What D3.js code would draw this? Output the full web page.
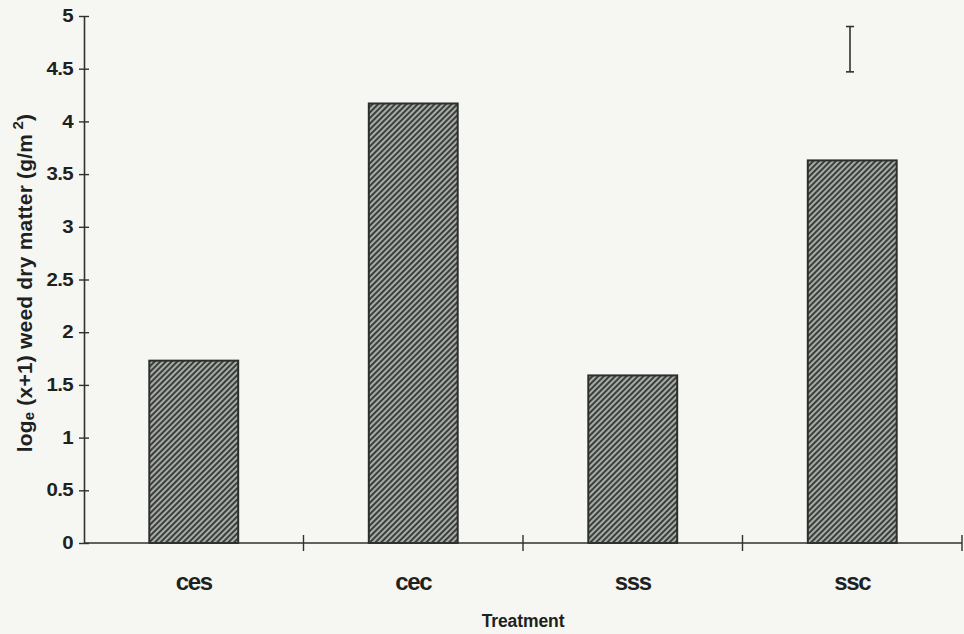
<!DOCTYPE html>
<html>
<head>
<meta charset="utf-8">
<script src="https://cdn.jsdelivr.net/npm/d3@7"></script>
<style>
  body { margin: 0; background: #f6f7f3; }
  svg { display: block; font-family: Arial, "Liberation Sans", sans-serif; }
</style>
</head>
<body>
<div id="chart"></div>
<script>
// treatments and weed dry matter values (log_e(x+1) g/m2)
const treatments = ['ces', 'cec', 'sss', 'ssc'];
const values = [1.73, 4.17, 1.59, 3.63];
const yTicks = [0, 0.5, 1, 1.5, 2, 2.5, 3, 3.5, 4, 4.5, 5];
const lsdBar = [4.47, 4.9]; // error bar (low, high)

const width = 964;
const height = 634;
const margin = { top: 16, right: 2, bottom: 91, left: 84 };

const svg = d3.select('#chart')
  .append('svg')
  .attr('width', width)
  .attr('height', height);

svg.append('rect').attr('width', width).attr('height', height).attr('fill', '#f6f7f3');

// hatch pattern for bars
const defs = svg.append('defs');
const pat = defs.append('pattern')
  .attr('id', 'hatch')
  .attr('patternUnits', 'userSpaceOnUse')
  .attr('width', 4)
  .attr('height', 4)
  .attr('patternTransform', 'rotate(45)');
pat.append('rect').attr('width', 4).attr('height', 4).attr('fill', '#a8aba8');
pat.append('rect').attr('width', 2).attr('height', 4).attr('fill', '#3a3f3b');

const xScale = d3.scaleBand()
  .domain(treatments)
  .range([margin.left, width - margin.right])
  .paddingInner(0.595)
  .paddingOuter(0.2975);

const step = xScale.step();

const yScale = d3.scaleLinear()
  .domain([0, 5])
  .range([height - margin.bottom, margin.top]);

// bars
svg.append('g')
  .selectAll('rect')
  .data(values)
  .join('rect')
  .attr('x', (d, i) => xScale(treatments[i]))
  .attr('y', d => yScale(d))
  .attr('width', xScale.bandwidth())
  .attr('height', d => yScale(0) - yScale(d))
  .attr('fill', 'url(#hatch)')
  .attr('stroke', '#2b302c')
  .attr('stroke-width', 2);

const axisColor = '#2e332f';

// y axis
const yAxis = d3.axisLeft(yScale)
  .tickValues(yTicks)
  .tickFormat(d => String(d))
  .tickSizeInner(-6)
  .tickSizeOuter(0);

const gy = svg.append('g')
  .attr('transform', `translate(${margin.left},0)`)
  .call(yAxis);
gy.select('.domain').attr('stroke', axisColor).attr('stroke-width', 1.6);
gy.selectAll('.tick line').attr('x1', -5).attr('x2', 5).attr('stroke', axisColor).attr('stroke-width', 1.4);
gy.selectAll('.tick text')
  .attr('x', -9.5)
  .attr('transform', 'scale(1.17,1)')
  .attr('fill', '#1e221f')
  .style('font-size', '17.5px')
  .style('font-weight', 'bold')
  .style('letter-spacing', '-0.6px');

// x axis with category boundary ticks
const gx = svg.append('g')
  .attr('transform', `translate(0,${yScale(0)})`);
gx.append('line')
  .attr('x1', margin.left)
  .attr('x2', width - margin.right)
  .attr('stroke', axisColor)
  .attr('stroke-width', 1.6);
const boundaries = treatments.slice(1).map(t => xScale(t) - step * xScale.paddingOuter())
  .concat([xScale(treatments[treatments.length - 1]) + xScale.bandwidth() + step * xScale.paddingOuter()]);
gx.selectAll('.bt')
  .data(boundaries)
  .join('line')
  .attr('x1', d => d).attr('x2', d => d)
  .attr('y1', -8).attr('y2', 8)
  .attr('stroke', axisColor)
  .attr('stroke-width', 1.4);
gx.selectAll('.cat')
  .data(treatments)
  .join('text')
  .attr('x', d => xScale(d) + xScale.bandwidth() / 2)
  .attr('y', 47)
  .attr('text-anchor', 'middle')
  .attr('fill', '#1e221f')
  .style('font-size', '24px')
  .style('font-weight', 'bold')
  .style('letter-spacing', '-1.4px')
  .text(d => d);

// axis titles
svg.append('text')
  .attr('x', 523)
  .attr('y', 627)
  .attr('text-anchor', 'middle')
  .attr('fill', '#1e221f')
  .style('font-size', '17.5px')
  .style('font-weight', 'bold')
  .style('letter-spacing', '-0.1px')
  .text('Treatment');

const yTitle = svg.append('text')
  .attr('transform', 'translate(32,283) rotate(-90)')
  .attr('text-anchor', 'middle')
  .attr('fill', '#1e221f')
  .style('font-size', '21px')
  .style('font-weight', 'bold')
  .style('letter-spacing', '0.2px');
yTitle.append('tspan').text('log');
yTitle.append('tspan').attr('dy', 2).style('font-size', '15px').text('e');
yTitle.append('tspan').attr('dy', -2).text(' (x+1) weed dry matter (g/m');
yTitle.append('tspan').attr('dy', -9).style('font-size', '15px').text(' 2');
yTitle.append('tspan').attr('dy', 9).text(')');

// error bar
const ex = 850;
const eb = svg.append('g').attr('stroke', axisColor).attr('stroke-width', 1.6);
eb.append('line').attr('x1', ex).attr('x2', ex).attr('y1', yScale(lsdBar[0])).attr('y2', yScale(lsdBar[1]));
eb.selectAll('.cap')
  .data(lsdBar)
  .join('line')
  .attr('x1', ex - 4).attr('x2', ex + 4)
  .attr('y1', d => yScale(d)).attr('y2', d => yScale(d));
</script>
</body>
</html>
